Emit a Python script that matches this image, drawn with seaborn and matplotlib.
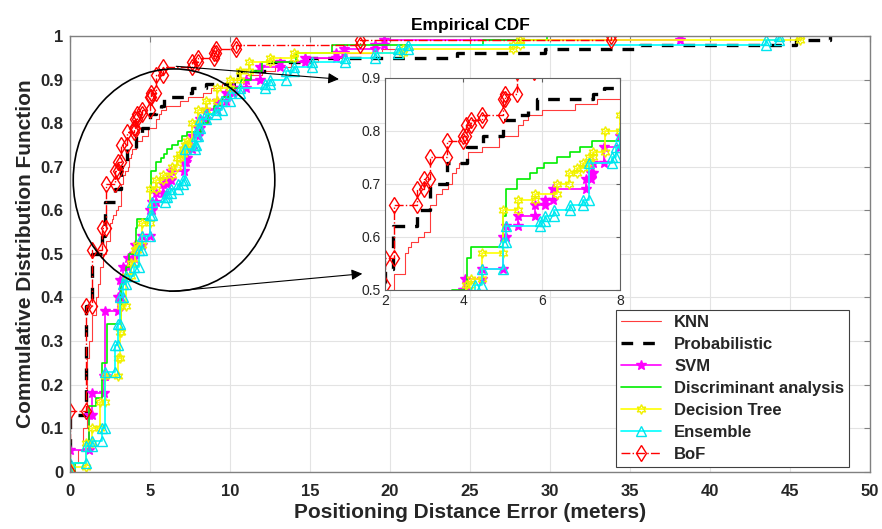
import numpy as np
import pandas as pd
import matplotlib
matplotlib.use("Agg")
import matplotlib.pyplot as plt
import seaborn as sns
from matplotlib.patches import Ellipse

# ECDF step points (x = error in meters, y = CDF after the step)
knn_x = [0.2, 0.5, 0.8, 1.05, 1.2, 1.4, 1.6, 1.75, 1.9, 2.05, 2.22, 2.5, 2.6, 2.67, 2.85, 2.99, 3.16, 3.3,
         3.45, 3.6, 3.71, 3.8, 3.9, 4.12, 4.47, 4.9, 5.4, 5.53, 5.66, 6.0, 6.86, 7.4, 8.3, 8.8, 9.5, 10.2,
         11.0, 12.0, 12.8, 13.8, 15.5, 17.0, 19.5, 21.0, 25.0, 33.8]
knn_y = [0.02, 0.05, 0.10, 0.26, 0.30, 0.36, 0.40, 0.43, 0.47, 0.50, 0.53, 0.57, 0.58, 0.59, 0.60, 0.61, 0.66,
         0.68, 0.69, 0.70, 0.72, 0.73, 0.74, 0.76, 0.77, 0.79, 0.81, 0.82, 0.83, 0.84, 0.85, 0.86, 0.87, 0.88,
         0.89, 0.90, 0.91, 0.92, 0.93, 0.94, 0.95, 0.96, 0.97, 0.98, 0.99, 1.0]

prob_x = [0.0, 1.0, 1.4, 2.0, 2.2, 2.81, 3.16, 3.58, 4.1, 4.49, 5.0, 5.36, 5.66, 5.88, 7.3, 7.6, 8.5, 10.5,
          12.3, 15.0, 24.2, 29.7, 35.6, 45.4, 47.5]
prob_y = [0.13, 0.38, 0.50, 0.54, 0.62, 0.65, 0.70, 0.74, 0.77, 0.79, 0.82, 0.83, 0.84, 0.86, 0.87, 0.88, 0.89,
          0.92, 0.94, 0.95, 0.96, 0.97, 0.98, 0.99, 1.0]

svm_x = [0.0, 1.2, 1.4, 2.1, 2.2, 3.0, 3.1, 3.3, 3.6, 4.0, 4.05, 4.47, 5.0, 5.1, 5.39, 5.84, 6.09, 6.3, 7.12,
         7.25, 7.3, 7.6, 8.0, 8.1, 8.5, 9.2, 9.75, 10.2, 11.0, 11.85, 13.1, 14.7, 16.6, 17.1, 19.05, 19.6, 38.1]
svm_y = [0.05, 0.13, 0.18, 0.22, 0.37, 0.40, 0.44, 0.47, 0.49, 0.50, 0.52, 0.54, 0.60, 0.62, 0.64, 0.66, 0.67,
         0.69, 0.71, 0.72, 0.74, 0.77, 0.79, 0.81, 0.83, 0.85, 0.87, 0.88, 0.90, 0.93, 0.94, 0.95, 0.96, 0.97,
         0.98, 0.99, 1.0]

da_x = [0.3, 1.0, 1.17, 1.6, 2.0, 2.3, 3.2, 3.5, 3.7, 4.1, 4.2, 5.0, 5.08, 5.36, 5.7, 5.88, 6.05, 6.4, 6.73,
        6.97, 7.29, 8.2, 8.6, 9.0, 9.5, 10.0, 10.7, 11.3, 12.0, 14.1, 16.4, 25.8, 29.8]
da_y = [0.02, 0.07, 0.15, 0.17, 0.25, 0.34, 0.43, 0.47, 0.50, 0.56, 0.58, 0.64, 0.69, 0.71, 0.72, 0.73, 0.74,
        0.75, 0.76, 0.77, 0.78, 0.80, 0.82, 0.84, 0.86, 0.88, 0.90, 0.92, 0.94, 0.96, 0.98, 0.99, 1.0]

dt_x = [0.0, 1.0, 1.4, 1.9, 2.2, 3.0, 3.1, 3.2, 3.5, 3.8, 4.08, 4.2, 4.47, 5.0, 5.39, 5.84, 6.4, 6.7, 6.9,
        7.05, 7.2, 7.3, 7.62, 8.0, 8.5, 9.2, 10.0, 10.6, 11.2, 12.5, 14.0, 20.8, 27.7, 28.1, 45.6]
dt_y = [0.01, 0.065, 0.10, 0.16, 0.22, 0.26, 0.32, 0.38, 0.45, 0.48, 0.51, 0.52, 0.57, 0.65, 0.67, 0.68, 0.70,
        0.72, 0.73, 0.74, 0.75, 0.76, 0.80, 0.83, 0.85, 0.88, 0.90, 0.92, 0.94, 0.95, 0.96, 0.97, 0.98, 0.99,
        1.0]

ens_x = [0.0, 1.0, 1.4, 2.0, 2.2, 2.8, 3.0, 3.1, 3.3, 3.5, 4.0, 4.3, 4.47, 5.0, 5.1, 5.96, 6.09, 6.32, 6.73,
         7.06, 7.2, 7.8, 7.9, 8.0, 8.1, 8.5, 9.1, 9.5, 10.0, 10.6, 12.2, 12.5, 13.5, 14.0, 15.1, 17.2, 19.05,
         20.5, 21.1, 43.5, 44.3]
ens_y = [0.02, 0.06, 0.07, 0.10, 0.23, 0.29, 0.34, 0.40, 0.43, 0.45, 0.47, 0.51, 0.54, 0.59, 0.62, 0.63, 0.64,
         0.65, 0.66, 0.67, 0.74, 0.75, 0.77, 0.79, 0.81, 0.82, 0.83, 0.85, 0.87, 0.88, 0.89, 0.90, 0.92, 0.93,
         0.94, 0.95, 0.96, 0.97, 0.98, 0.99, 1.0]

bof_x = [0.0, 1.0, 1.4, 2.0, 2.22, 2.81, 2.99, 3.16, 3.58, 4.0, 4.08, 4.2, 4.47, 5.0, 5.07, 5.38, 5.8, 7.6,
         8.0, 9.0, 9.1, 10.4, 18.1, 33.8]
bof_y = [0.14, 0.38, 0.51, 0.56, 0.66, 0.69, 0.71, 0.75, 0.78, 0.79, 0.81, 0.82, 0.83, 0.86, 0.87, 0.91, 0.93,
         0.94, 0.95, 0.96, 0.97, 0.98, 0.99, 1.0]

labels = ["KNN", "Probabilistic", "SVM", "Discriminant analysis", "Decision Tree", "Ensemble", "BoF"]
xticks_main = [0, 5, 10, 15, 20, 25, 30, 35, 40, 45, 50]
yticks_main = [0, 0.1, 0.2, 0.3, 0.4, 0.5, 0.6, 0.7, 0.8, 0.9, 1.0]
ytick_labels = ["0", "0.1", "0.2", "0.3", "0.4", "0.5", "0.6", "0.7", "0.8", "0.9", "1"]

series = [
    (knn_x, knn_y, dict(color="#ff3c3c", lw=0.8, ls="-", marker=None)),
    (prob_x, prob_y, dict(color="black", lw=2.4, ls=(0, (3.5, 3)), marker=None)),
    (svm_x, svm_y, dict(color="magenta", lw=1.2, ls="-", marker="*", ms=7.5, mfc="magenta", mec="magenta")),
    (da_x, da_y, dict(color="#00ee00", lw=1.2, ls="-", marker=None)),
    (dt_x, dt_y, dict(color="#ffff00", lw=1.2, ls="-", marker=(6, 1, 0), ms=7, mfc="none", mec="#f0f000")),
    (ens_x, ens_y, dict(color="cyan", lw=1.2, ls="-", marker="^", ms=6.5, mfc="none", mec="#00e5ee")),
    (bof_x, bof_y, dict(color="red", lw=1.0, ls="-.", marker="d", ms=8, mfc="none", mec="red")),
]


def stair(xs, ys):
    # corners of the ECDF staircase (MATLAB puts markers on every corner)
    vx, vy = [xs[0]], [0.0]
    for i, (x, y) in enumerate(zip(xs, ys)):
        if i > 0:
            vx.append(x)
            vy.append(ys[i - 1])
        vx.append(x)
        vy.append(y)
    return pd.DataFrame({"x": vx, "y": vy})


sns.set_style("white")
plt.rcParams["font.family"] = ["Liberation Sans", "DejaVu Sans"]
dark = "#262626"

fig = plt.figure(figsize=(8.82, 5.29), dpi=100)
ax = fig.add_axes([0.0794, 0.1083, 0.907, 0.8236])


def draw(a, with_label):
    for (xs, ys, st), lab in zip(series, labels):
        d = stair(xs, ys)
        kw = dict(color=st["color"], linewidth=st["lw"], linestyle=st["ls"])
        if st["marker"] is not None:
            kw.update(marker=st["marker"], markersize=st["ms"], markerfacecolor=st["mfc"],
                      markeredgecolor=st["mec"], markeredgewidth=1.0)
        sns.lineplot(data=d, x="x", y="y", sort=False, estimator=None, ax=a,
                     label=lab if with_label else None, legend=False, **kw)


draw(ax, True)
ax.set_xlim(0, 50)
ax.set_ylim(0, 1)
ax.set_xticks(xticks_main)
ax.set_yticks(yticks_main)
ax.set_xticklabels([str(t) for t in xticks_main], fontweight="bold", fontsize=12, color=dark)
ax.set_yticklabels(ytick_labels, fontweight="bold", fontsize=12, color=dark)
ax.grid(True, color="#e3e3e3", lw=0.8)
ax.tick_params(axis="x", direction="in", top=True, length=4, color="#808080", pad=9)
ax.tick_params(axis="y", direction="in", right=True, length=4, color="#808080", pad=5)
for s in ax.spines.values():
    s.set_color("#808080")
    s.set_linewidth(1.0)
ax.set_title("Empirical CDF", fontweight="bold", fontsize=12.5, pad=4, color="black")
ax.set_xlabel("Positioning Distance Error (meters)", fontweight="bold", fontsize=15, labelpad=3, color=dark)
ax.set_ylabel("Commulative Distribution Function", fontweight="bold", fontsize=15, labelpad=4, color=dark)

leg = ax.legend(loc="lower right", bbox_to_anchor=(0.974, 0.011), frameon=True, fancybox=False,
                framealpha=1, edgecolor="#404040", prop=dict(weight="bold", size=12),
                handlelength=2.4, borderpad=0.3, labelspacing=0.42, borderaxespad=0)
leg.get_frame().set_linewidth(0.8)

# zoom circle and arrows
ax.add_patch(Ellipse((6.5, 0.6695), 12.6, 0.51, fill=False, edgecolor="black", lw=1.2, zorder=20))
ax.annotate("", xy=(16.98, 0.9006), xytext=(6.46, 0.931),
            arrowprops=dict(arrowstyle="-|>", color="black", lw=0.8, mutation_scale=16), zorder=20)
ax.annotate("", xy=(18.44, 0.455), xytext=(6.04, 0.413),
            arrowprops=dict(arrowstyle="-|>", color="black", lw=0.8, mutation_scale=16), zorder=20)

# inset
axin = fig.add_axes([0.4365, 0.452, 0.2665, 0.401])
axin.set_facecolor("white")
draw(axin, False)
axin.set_xlim(2, 8)
axin.set_ylim(0.5, 0.9)
axin.set_xticks([2, 4, 6, 8])
axin.set_yticks([0.5, 0.6, 0.7, 0.8, 0.9])
axin.set_xticklabels(["2", "4", "6", "8"], fontsize=10, color=dark)
axin.set_yticklabels(["0.5", "0.6", "0.7", "0.8", "0.9"], fontsize=10, color=dark)
axin.set_xlabel("")
axin.set_ylabel("")
axin.grid(True, color="#e3e3e3", lw=0.8)
axin.tick_params(direction="in", top=True, right=True, length=3, color="#606060", pad=3)
for s in axin.spines.values():
    s.set_color("#606060")
    s.set_linewidth(0.8)

fig.savefig("out.png", dpi=100)
